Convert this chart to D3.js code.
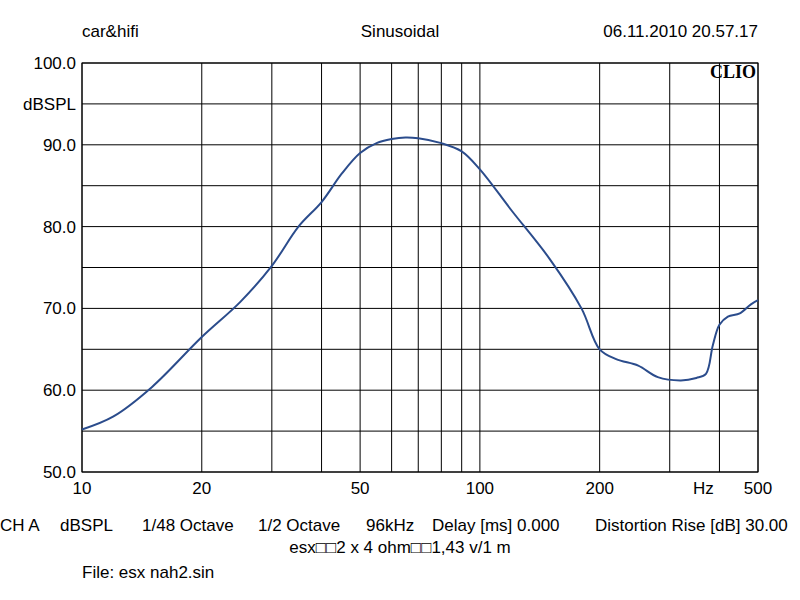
<!DOCTYPE html>
<html><head><meta charset="utf-8">
<script src="https://cdn.jsdelivr.net/npm/d3@7"></script>
<style>body{margin:0;background:#fff}svg{font-family:"Liberation Sans",Arial,sans-serif}</style>
</head><body><svg id="c" width="800" height="600"></svg>
<script>
const freqs=[10,12,15,20,25,30,35,40,45,50,55,60,65,70,80,90,100,120,150,180,200,220,250,280,320,350,370,385,400,420,450,480,500];
const dbs=[55.2,56.8,60.4,66.5,70.8,75.2,80,83,86.5,89,90.2,90.7,90.9,90.8,90.2,89.2,87,82,76,70,65,63.8,63,61.6,61.2,61.5,62,65.5,68,69,69.4,70.5,71];
const xTicks=[10,20,50,100,200,500];
const xGrid=[10,20,30,40,50,60,70,80,90,100,200,300,400,500];
const yTicks=[50,60,70,80,90,100];
const yGrid=[50,55,60,65,70,75,80,85,90,95,100];
const infoLabels=["CH A","dBSPL","1/48 Octave","1/2 Octave","96kHz","Delay [ms] 0.000","Distortion Rise [dB] 30.00"];
const infoX=[0,60,142,258,366,432,595];
const svg=d3.select("#c");
const L=82,R=758,T=63,B=472;
const x=d3.scaleLog().domain([10,500]).range([L,R]);
const y=d3.scaleLinear().domain([50,100]).range([B,T]);
svg.append("g").selectAll("line").data(xGrid).join("line").attr("x1",d=>x(d)).attr("x2",d=>x(d)).attr("y1",T).attr("y2",B).attr("stroke","#000").attr("stroke-width",1);
svg.append("g").selectAll("line").data(yGrid).join("line").attr("y1",d=>y(d)).attr("y2",d=>y(d)).attr("x1",L).attr("x2",R).attr("stroke","#000").attr("stroke-width",1);
svg.append("rect").attr("x",L).attr("y",T).attr("width",R-L).attr("height",B-T).attr("fill","none").attr("stroke","#000");
const fs=17;
svg.append("g").selectAll("text").data(xTicks).join("text").attr("x",d=>x(d)).attr("y",B+22).attr("text-anchor","middle").attr("font-size",fs).text(d=>d);
svg.append("text").attr("x",x(400)-16).attr("y",B+22).attr("text-anchor","middle").attr("font-size",fs).text("Hz");
svg.append("g").selectAll("text").data(yTicks).join("text").attr("x",L-6).attr("y",d=>y(d)+6).attr("text-anchor","end").attr("font-size",fs).text(d=>d.toFixed(1));
svg.append("text").attr("x",L-6).attr("y",y(95)+6).attr("text-anchor","end").attr("font-size",fs).text("dBSPL");
svg.append("path").datum(freqs.map((f,i)=>[f,dbs[i]])).attr("fill","none").attr("stroke","#2b4c8c").attr("stroke-width",2)
 .attr("d",d3.line().x(d=>x(d[0])).y(d=>y(d[1])).curve(d3.curveCatmullRom.alpha(0.5)));
svg.append("text").attr("x",R-2).attr("y",T+15).attr("text-anchor","end").attr("font-family","'Liberation Serif',serif").attr("font-weight","bold").attr("font-size",18).text("CLIO");
svg.append("text").attr("x",L).attr("y",37).attr("font-size",fs).text("car&hifi");
svg.append("text").attr("x",400).attr("y",37).attr("text-anchor","middle").attr("font-size",fs).text("Sinusoidal");
svg.append("text").attr("x",R).attr("y",37).attr("text-anchor","end").attr("font-size",fs).text("06.11.2010 20.57.17");
svg.append("g").selectAll("text").data(infoLabels).join("text").attr("x",(d,i)=>infoX[i]).attr("y",531).attr("font-size",fs).text(d=>d);
svg.append("text").attr("x",400).attr("y",553).attr("text-anchor","middle").attr("font-size",fs).text("esx\u25A1\u25A12 x 4 ohm\u25A1\u25A11,43 v/1 m");
svg.append("text").attr("x",82).attr("y",578).attr("font-size",fs).text("File: esx nah2.sin");
</script></body></html>
